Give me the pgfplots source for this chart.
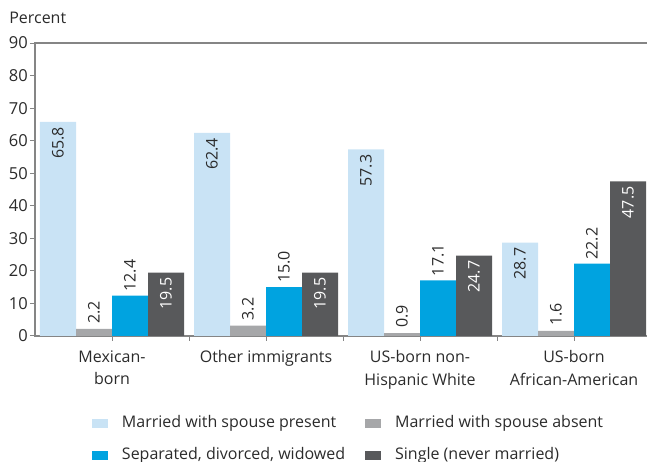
\documentclass[border=0pt]{standalone}
\usepackage{fontspec}
\setmainfont{Open Sans}
\usepackage{pgfplots}
\pgfplotsset{compat=1.18}

\definecolor{cLight}{HTML}{C9E3F5}
\definecolor{cGrey}{HTML}{A6A7A9}
\definecolor{cBlue}{HTML}{00A3E0}
\definecolor{cDark}{HTML}{58595B}
\definecolor{axisgray}{HTML}{858585}
\definecolor{txt}{HTML}{2B2B2B}

\begin{document}
\begin{tikzpicture}
\begin{axis}[
  at={(35pt,126pt)}, anchor=south west,
  scale only axis, width=616pt, height=293pt,
  xmin=-0.5, xmax=3.5, ymin=0, ymax=90,
  ybar=0pt, bar width=36pt,
  /pgf/number format/assume math mode=true,
  font=\fontsize{16}{18}\selectfont,
  axis line style={axisgray, line width=1.1pt},
  tick style={axisgray, line width=1pt},
  tick align=outside, major tick length=5pt,
  xtick pos=lower, ytick pos=left,
  xtick={0,1,2,3},
  xticklabels={Mexican-\\born, Other immigrants, US-born non-\\Hispanic White, US-born\\African-American},
  extra x ticks={0.5,1.5,2.5}, extra x tick labels={},
  ytick={0,10,...,90},
  x tick label style={align=center, font=\fontsize{16}{22.5}\selectfont, text=txt, yshift=-6pt},
  y tick label style={text=txt, font=\fontsize{16.5}{18}\selectfont, inner sep=1pt, xshift=-1pt},
  ylabel={Percent},
  every axis y label/.style={at={(axis description cs:-0.042,1.087)}, anchor=west, inner sep=0pt, rotate=0, text=txt, font=\fontsize{16}{18}\selectfont},
  nodes near coords={\pgfmathprintnumber[fixed,fixed zerofill,precision=1]{\pgfplotspointmeta}},
  every node near coord/.append style={font=\fontsize{16}{18}\selectfont, rotate=90},
  legend columns=2,
  legend cell align=left,
  legend image code/.code={\fill[#1] (0pt,-4.5pt) rectangle (16pt,4.5pt);},
  legend style={at={(axis description cs:0.0925,-0.274)}, anchor=north west,
    draw=none, fill=none, inner sep=0pt, outer sep=0pt, row sep=18pt,
    nodes={inner sep=0pt, text height=11pt, text depth=3pt, text=txt, font=\fontsize{16}{18}\selectfont},
    /tikz/every odd column/.style={column sep=14pt},
    /tikz/every even column/.style={column sep=20pt}},
]
\addplot[fill=cLight, draw=none, nodes near coords style={anchor=east, inner sep=5pt, text=txt}]
  coordinates {(0,65.8) (1,62.4) (2,57.3) (3,28.7)};
\addplot[fill=cGrey, draw=none, nodes near coords style={anchor=west, inner sep=5pt, text=txt}]
  coordinates {(0,2.2) (1,3.2) (2,0.9) (3,1.6)};
\addplot[fill=cBlue, draw=none, nodes near coords style={anchor=west, inner sep=4pt, text=txt}]
  coordinates {(0,12.4) (1,15.0) (2,17.1) (3,22.2)};
\addplot[fill=cDark, draw=none, nodes near coords style={anchor=east, inner sep=5pt, text=white}]
  coordinates {(0,19.5) (1,19.5) (2,24.7) (3,47.5)};
\legend{Married with spouse present, Married with spouse absent, {Separated, divorced, widowed}, Single (never married)}
\end{axis}
\pgfresetboundingbox
\path[use as bounding box] (0,0) rectangle (647pt,462pt);
\end{tikzpicture}
\end{document}
